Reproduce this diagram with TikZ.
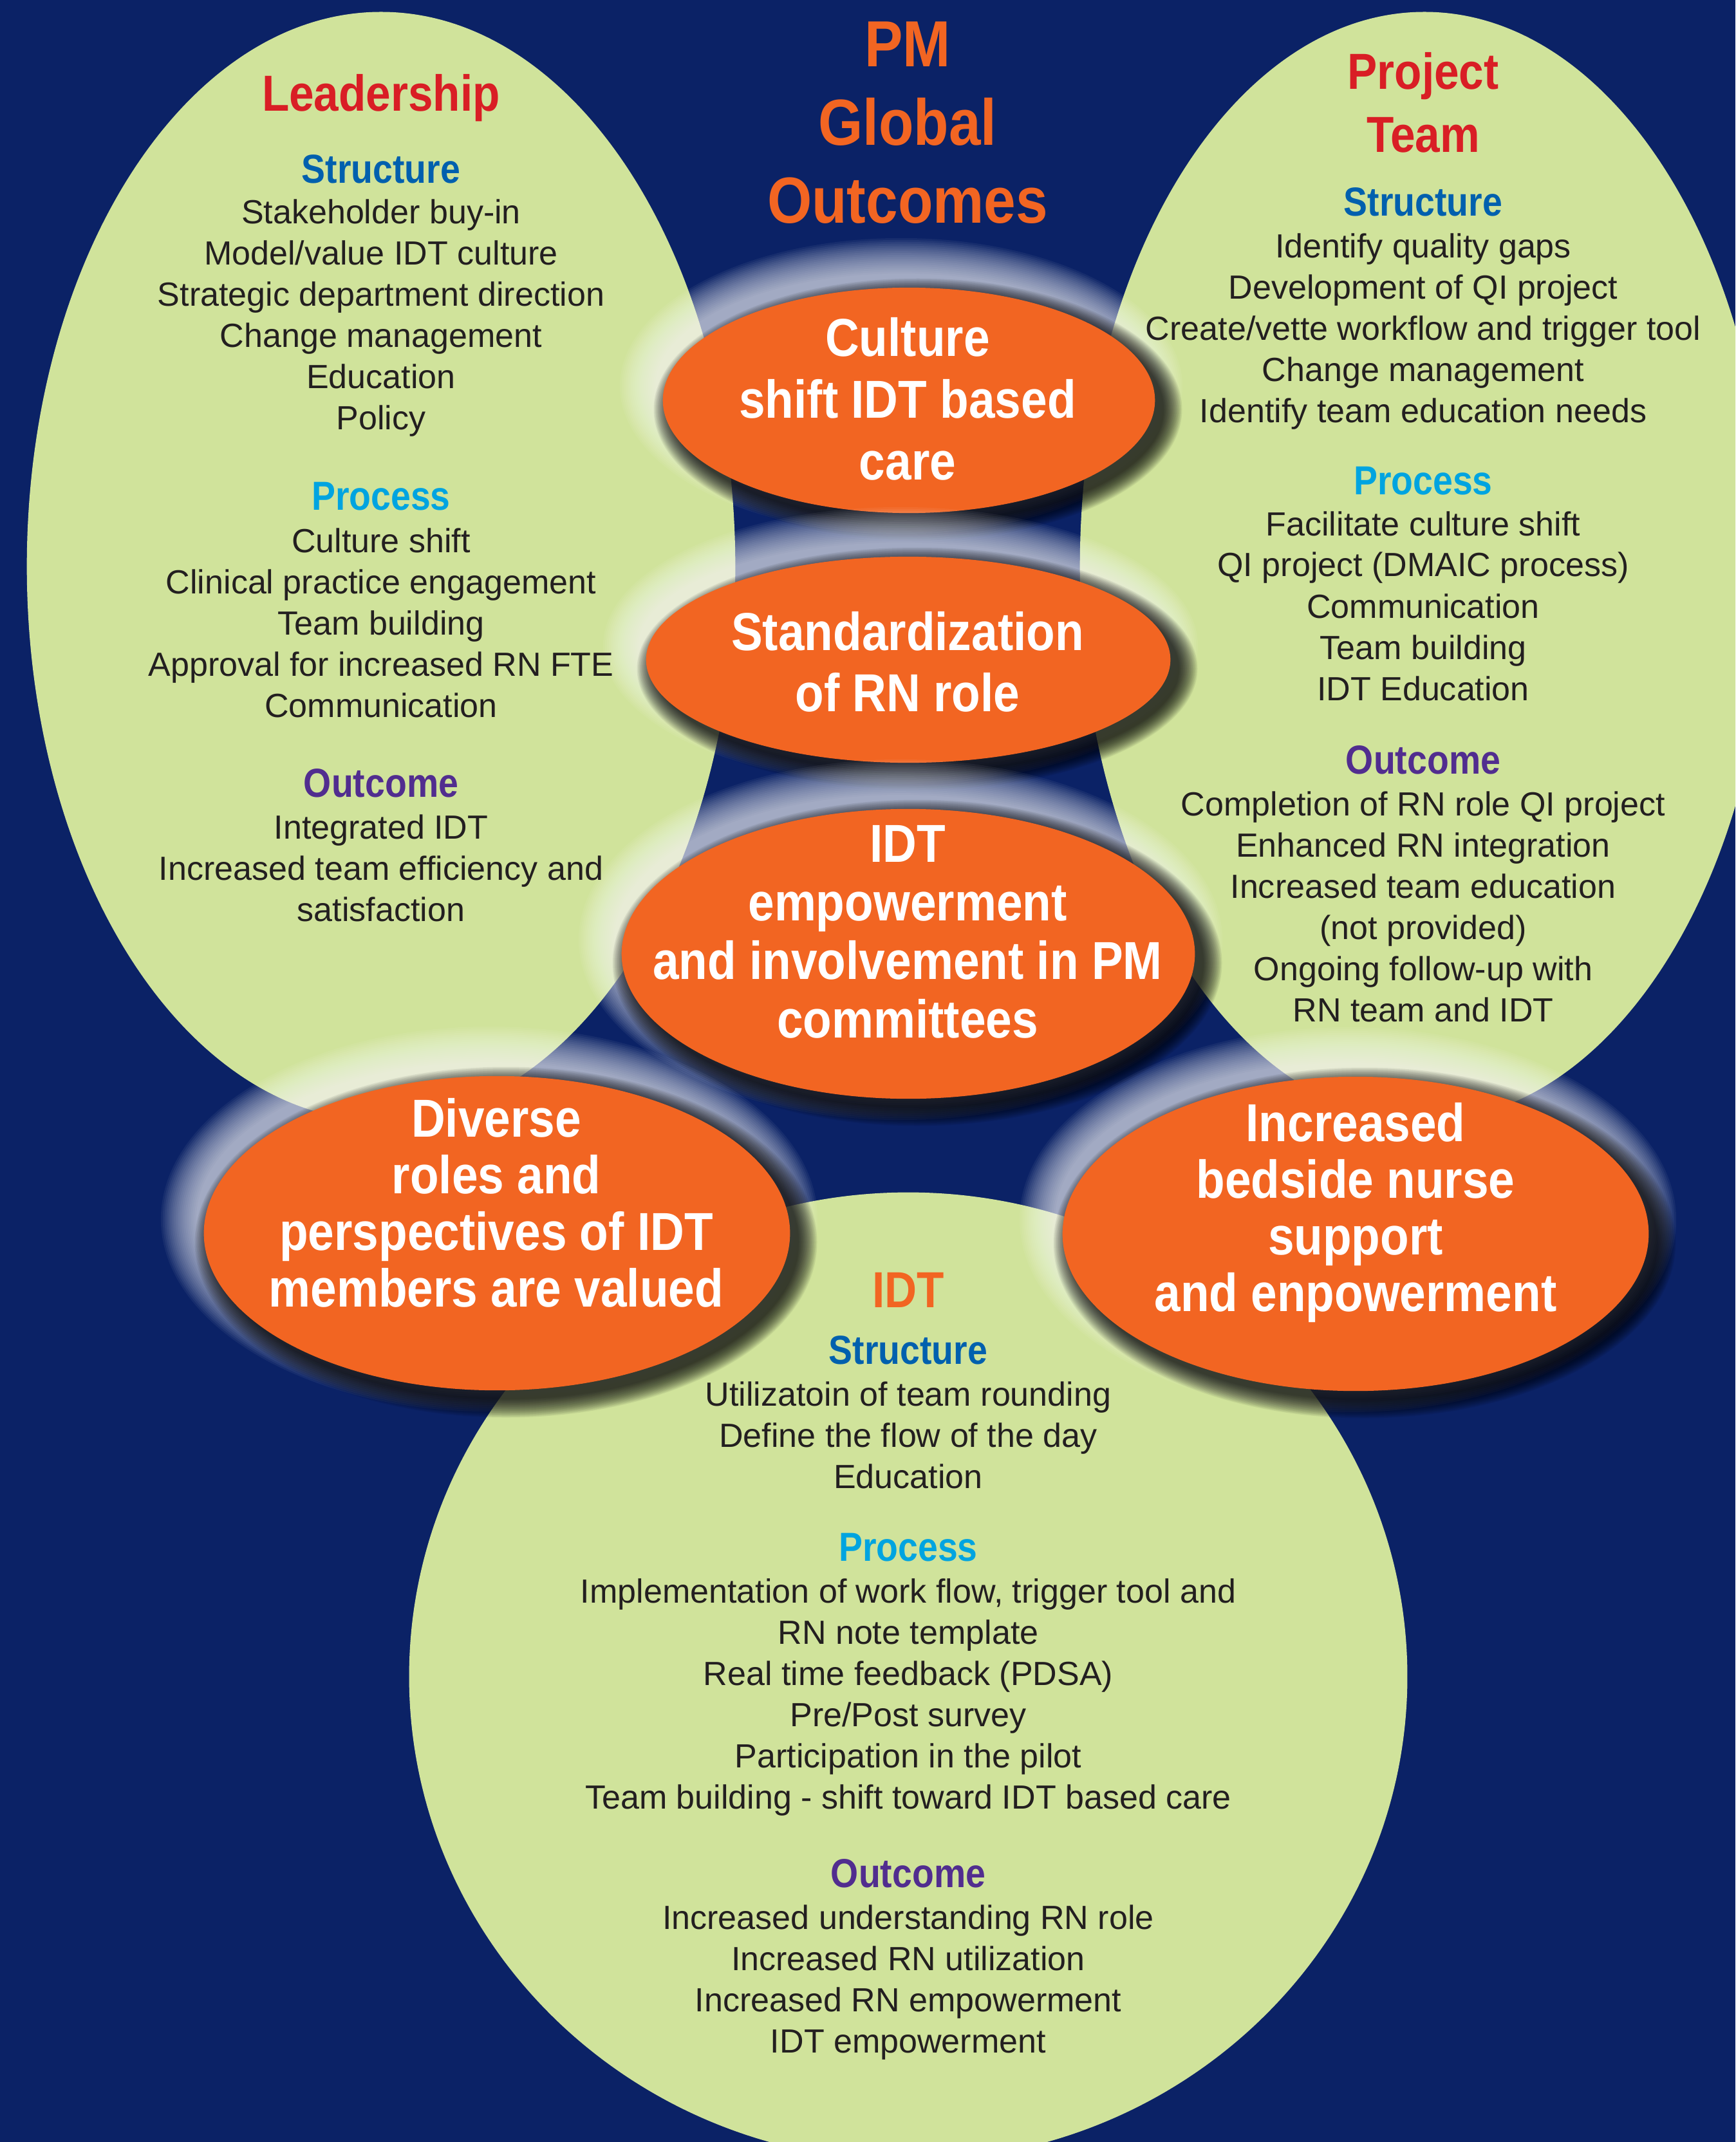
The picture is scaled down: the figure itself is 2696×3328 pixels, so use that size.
\documentclass[tikz,border=0pt]{standalone}
\usepackage{fontspec}
\setmainfont{Liberation Sans}
\newfontfamily\headfont{Liberation Sans}[FakeStretch=0.88]
\usetikzlibrary{shapes.geometric}

\definecolor{navy}{HTML}{0B2266}
\definecolor{leaf}{HTML}{D0E39B}
\definecolor{ember}{HTML}{F26522}
\definecolor{crimson}{HTML}{D91E25}
\definecolor{secblue}{HTML}{0060AE}
\definecolor{seccyan}{HTML}{00A4E0}
\definecolor{secpurple}{HTML}{512D8F}
\definecolor{ink}{HTML}{231F20}

\tikzset{
  bodytxt/.style={font=\fontsize{14.8}{18}\selectfont, text=ink, inner sep=0pt, anchor=base},
  sectxt/.style={font=\headfont\bfseries\fontsize{17.9}{21}\selectfont, inner sep=0pt, anchor=base},
  grouptxt/.style={font=\headfont\bfseries\fontsize{22.4}{27}\selectfont, text=crimson, inner sep=0pt, anchor=base},
  bubbletxt/.style={font=\headfont\bfseries\fontsize{23.6}{28}\selectfont, text=white, inner sep=0pt, anchor=base},
  maintitle/.style={font=\headfont\bfseries\fontsize{28.8}{34}\selectfont, text=ember, inner sep=0pt, anchor=base},
  greenbody/.style={ellipse, fill=leaf, inner sep=0pt},
  orangebody/.style={ellipse, fill=ember, inner sep=0pt},
}

% soft halo: a stack of translucent ellipses shrinking toward the given radii
\newcommand\haloellipse[7]{% cx, cy, rx, ry, colour, spread, opacity per step
  \foreach \hstep in {1,...,20}{
    \fill[#5, opacity=#7] (#1,#2) ellipse [x radius={#3+#6*(1-\hstep/20)}, y radius={#4+#6*(1-\hstep/20)}];
  }
}

% orange outcome bubble with light glow (upper left) and dark shadow (lower right)
\newcommand\bubble[5]{% name, cx, cy, rx, ry
  \haloellipse{#2-12}{#3-22}{#4}{#5}{white}{58}{0.05}
  \haloellipse{#2+14}{#3+14}{#4}{#5}{black}{30}{0.062}
  \node[orangebody, minimum width={#4*0.02cm}, minimum height={#5*0.02cm}] (#1) at (#2,#3) {};
}

\begin{document}
\begin{tikzpicture}[x=0.01cm, y=-0.01cm]
  \useasboundingbox (0,0) rectangle (2696,3328);
  \clip (0,0) rectangle (2696,3328);
  \fill[navy] (0,0) rectangle (2696,3328);

  % three green domains
  \node[greenbody, minimum width=11cm, minimum height=17.22cm] (leadership) at (592,880) {};
  \node[greenbody, minimum width=10.7cm, minimum height=17.22cm] (project) at (2213,880) {};
  \node[greenbody, minimum width=15.5cm, minimum height=15.04cm] (idt) at (1411,2605) {};

  % outcome bubbles
  \bubble{culture}{1412}{622}{382}{175}
  \bubble{standard}{1411}{1025}{407}{160}
  \bubble{empower}{1411}{1482}{445}{225}
  \bubble{diverse}{772}{1916}{455}{244}
  \bubble{bedside}{2106}{1917}{455}{244}

  % title
  \node[maintitle] (t1) at (1410,104) {PM};
  \node[maintitle] (t2) at (1410,226) {Global};
  \node[maintitle] (t3) at (1410,347) {Outcomes};

  % bubble texts
  \foreach \t [count=\i from 0] in {Culture, shift IDT based, care}
    \node[bubbletxt] (cu-\i) at (1410,{554+96*\i}) {\t};
  \foreach \t [count=\i from 0] in {Standardization, of RN role}
    \node[bubbletxt] (st-\i) at (1410,{1010+95*\i}) {\t};
  \foreach \t [count=\i from 0] in {IDT, empowerment, and involvement in PM, committees}
    \node[bubbletxt] (em-\i) at (1410,{1339+91*\i}) {\t};
  \foreach \t [count=\i from 0] in {Diverse, roles and, perspectives of IDT, members are valued}
    \node[bubbletxt] (dv-\i) at (771,{1766+88*\i}) {\t};
  \foreach \t [count=\i from 0] in {Increased, bedside nurse, support, and enpowerment}
    \node[bubbletxt] (bs-\i) at (2106,{1773+88*\i}) {\t};

  % Leadership
  \node[grouptxt] (lh) at (592,173) {Leadership};
  \node[sectxt, text=secblue] (ls) at (592,285) {Structure};
  \foreach \t [count=\i from 0] in {Stakeholder buy-in, Model/value IDT culture, Strategic department direction, Change management, Education, Policy}
    \node[bodytxt] (ls-\i) at (592,{348+64*\i}) {\t};
  \node[sectxt, text=seccyan] (lp) at (592,793) {Process};
  \foreach \t [count=\i from 0] in {Culture shift, Clinical practice engagement, Team building, Approval for increased RN FTE, Communication}
    \node[bodytxt] (lp-\i) at (592,{858+64*\i}) {\t};
  \node[sectxt, text=secpurple] (lo) at (592,1238) {Outcome};
  \foreach \t [count=\i from 0] in {Integrated IDT, Increased team efficiency and, satisfaction}
    \node[bodytxt] (lo-\i) at (592,{1303+64*\i}) {\t};

  % Project Team
  \node[grouptxt] (ph1) at (2211,139) {Project};
  \node[grouptxt] (ph2) at (2211,237) {Team};
  \node[sectxt, text=secblue] (ps) at (2211,336) {Structure};
  \foreach \t [count=\i from 0] in {Identify quality gaps, Development of QI project, Create/vette workflow and trigger tool, Change management, Identify team education needs}
    \node[bodytxt] (ps-\i) at (2211,{401+64*\i}) {\t};
  \node[sectxt, text=seccyan] (pp) at (2211,769) {Process};
  \foreach \t [count=\i from 0] in {Facilitate culture shift, QI project (DMAIC process), Communication, Team building, IDT Education}
    \node[bodytxt] (pp-\i) at (2211,{832+64*\i}) {\t};
  \node[sectxt, text=secpurple] (po) at (2211,1202) {Outcome};
  \foreach \t [count=\i from 0] in {Completion of RN role QI project, Enhanced RN integration, Increased team education, (not provided), Ongoing follow-up with, RN team and IDT}
    \node[bodytxt] (po-\i) at (2211,{1267+64*\i}) {\t};

  % IDT
  \node[grouptxt, text=ember] (ih) at (1411,2031) {IDT};
  \node[sectxt, text=secblue] (is) at (1411,2119) {Structure};
  \foreach \t [count=\i from 0] in {Utilizatoin of team rounding, Define the flow of the day, Education}
    \node[bodytxt] (is-\i) at (1411,{2184+64*\i}) {\t};
  \node[sectxt, text=seccyan] (ip) at (1411,2425) {Process};
  \foreach \t [count=\i from 0] in {{Implementation of work flow, trigger tool and}, RN note template, Real time feedback (PDSA), Pre/Post survey, Participation in the pilot, Team building - shift toward IDT based care}
    \node[bodytxt] (ip-\i) at (1411,{2490+64*\i}) {\t};
  \node[sectxt, text=secpurple] (io) at (1411,2932) {Outcome};
  \foreach \t [count=\i from 0] in {Increased understanding RN role, Increased RN utilization, Increased RN empowerment, IDT empowerment}
    \node[bodytxt] (io-\i) at (1411,{2997+64*\i}) {\t};
\end{tikzpicture}
\end{document}
